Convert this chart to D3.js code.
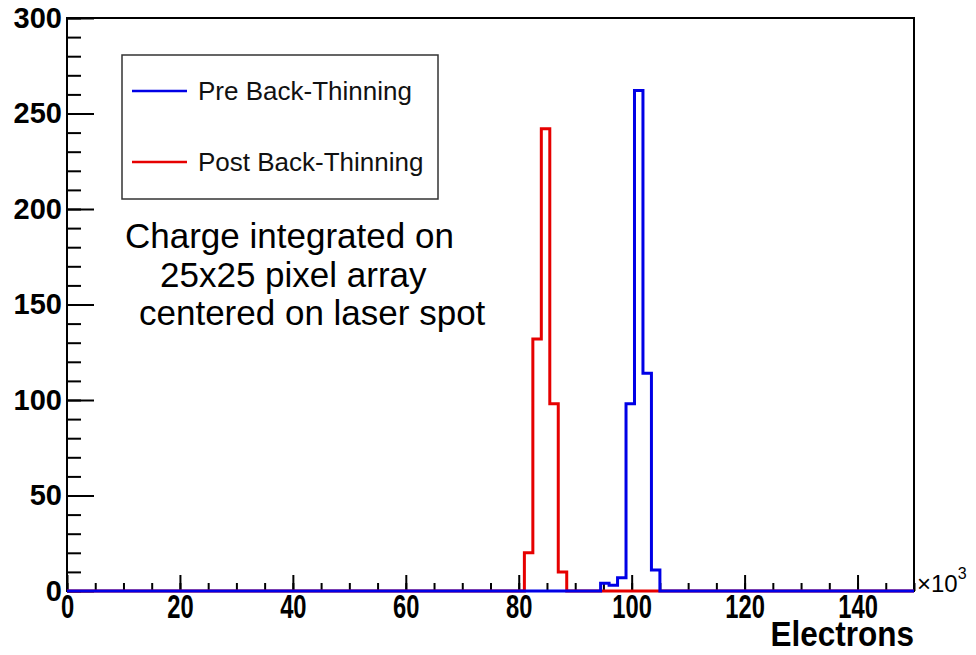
<html>
  <head>
    <meta charset="UTF-8" />
    <script src="https://d3js.org/d3.v7.min.js"></script>
    <style>
      body { margin: 0; background: #fff; }
    </style>
  </head>
  <body>
    <div id="chart"></div>
    <script>
      // histogram bins (lower edges in 10^3 electrons), width 1.5k
      var binWidth = 1.5
      var preLow = [94.5, 96, 97.5, 99, 100.5, 102, 103.5]
      var preCounts = [4, 3, 7, 98, 262, 114, 11]
      var postLow = [81, 82.5, 84, 85.5, 87]
      var postCounts = [20, 132, 242, 98, 10]

      var xTicks = [0, 20, 40, 60, 80, 100, 120, 140]
      var yTicks = [0, 50, 100, 150, 200, 250, 300]

      var legendNames = ["Pre Back-Thinning", "Post Back-Thinning"]
      var colors = ["#0000e6", "#e60000"]
      var noteLines = ["Charge integrated on", "25x25 pixel array", "centered on laser spot"]

      var width = 976
      var height = 655
      var frame = {left: 67, right: 914, top: 18, bottom: 591}

      var svg = d3.select("#chart")
        .append("svg")
        .attr("width", width)
        .attr("height", height)
        .style("font-family", "Arial, 'Liberation Sans', sans-serif")

      var x = d3.scaleLinear().domain([0, 150]).range([frame.left, frame.right])
      var y = d3.scaleLinear().domain([0, 300]).range([frame.bottom, frame.top])

      // frame
      svg.append("rect")
        .attr("x", frame.left).attr("y", frame.top)
        .attr("width", frame.right - frame.left).attr("height", frame.bottom - frame.top)
        .attr("fill", "none").attr("stroke", "#000").attr("stroke-width", 2)

      // y axis minor + major
      svg.append("g")
        .attr("transform", "translate(" + frame.left + ",0)")
        .call(d3.axisLeft(y).tickValues(d3.range(0, 301, 10)).tickSize(-14).tickFormat(""))
        .call(function(g) { g.select(".domain").remove() })
        .selectAll("line").attr("stroke", "#000").attr("stroke-width", 2)

      svg.append("g")
        .attr("transform", "translate(" + frame.left + ",0)")
        .call(d3.axisLeft(y).tickValues(yTicks).tickSize(-27).tickPadding(5))
        .call(function(g) { g.select(".domain").remove() })
        .call(function(g) {
          g.selectAll("line").attr("stroke", "#000").attr("stroke-width", 2)
          g.selectAll("text")
            .attr("fill", "#000")
            .style("font-size", "29px")
            .style("font-weight", "bold")
            .style("font-family", "Arial, 'Liberation Sans', sans-serif")
        })

      // x axis minor + major
      svg.append("g")
        .attr("transform", "translate(0," + frame.bottom + ")")
        .call(d3.axisBottom(x).tickValues(d3.range(0, 151, 5)).tickSize(-8).tickFormat(""))
        .call(function(g) { g.select(".domain").remove() })
        .selectAll("line").attr("stroke", "#000").attr("stroke-width", 2)

      svg.append("g")
        .attr("transform", "translate(0," + frame.bottom + ")")
        .call(d3.axisBottom(x).tickValues(xTicks).tickSize(-16).tickPadding(4))
        .call(function(g) { g.select(".domain").remove() })
        .call(function(g) {
          g.selectAll("line").attr("stroke", "#000").attr("stroke-width", 2)
          g.selectAll("text")
            .attr("fill", "#000")
            .attr("transform", "scale(0.72,1)")
            .style("font-size", "33px")
            .style("font-weight", "bold")
            .style("font-family", "Arial, 'Liberation Sans', sans-serif")
        })

      // x10^3 and axis title
      var mult = svg.append("text")
        .attr("x", 917).attr("y", 592)
        .style("font-size", "24px")
        .attr("fill", "#000")
      mult.append("tspan").text("\u00d710")
      mult.append("tspan").attr("dy", -13).style("font-size", "16px").text("3")

      svg.append("text")
        .attr("transform", "translate(" + frame.right + ",646) scale(0.9,1)")
        .attr("text-anchor", "end")
        .style("font-size", "35px")
        .style("font-weight", "bold")
        .attr("fill", "#000")
        .text("Electrons")

      // step outline of a histogram over the full range
      function stepPoints(lows, counts) {
        var pts = [[0, 0], [lows[0], 0]]
        lows.forEach(function(lo, i) {
          pts.push([lo, counts[i]])
          pts.push([lo + binWidth, counts[i]])
        })
        var end = lows[lows.length - 1] + binWidth
        pts.push([end, 0])
        pts.push([150, 0])
        return pts
      }

      var line = d3.line()
        .x(function(d) { return x(d[0]) })
        .y(function(d) { return y(d[1]) })

      svg.append("path")
        .attr("d", line(stepPoints(postLow, postCounts)))
        .attr("fill", "none")
        .attr("stroke", colors[1])
        .attr("stroke-width", 3)

      svg.append("path")
        .attr("d", line(stepPoints(preLow, preCounts)))
        .attr("fill", "none")
        .attr("stroke", colors[0])
        .attr("stroke-width", 3)

      // legend
      svg.append("rect")
        .attr("x", 122).attr("y", 55)
        .attr("width", 316).attr("height", 144)
        .attr("fill", "#fff").attr("stroke", "#333").attr("stroke-width", 1.5)

      var legendY = [91, 162]
      legendNames.forEach(function(name, i) {
        svg.append("line")
          .attr("x1", 132).attr("x2", 187)
          .attr("y1", legendY[i]).attr("y2", legendY[i])
          .attr("stroke", colors[i]).attr("stroke-width", 2.5)
        svg.append("text")
          .attr("x", 198).attr("y", legendY[i] + 9)
          .style("font-size", "26px")
          .attr("fill", "#111")
          .text(name)
      })

      // annotation
      var noteX = [125, 160, 139]
      noteLines.forEach(function(t, i) {
        svg.append("text")
          .attr("x", noteX[i]).attr("y", 248 + i * 38.5)
          .style("font-size", "35px")
          .attr("fill", "#000")
          .text(t)
      })
    </script>
  </body>
</html>
